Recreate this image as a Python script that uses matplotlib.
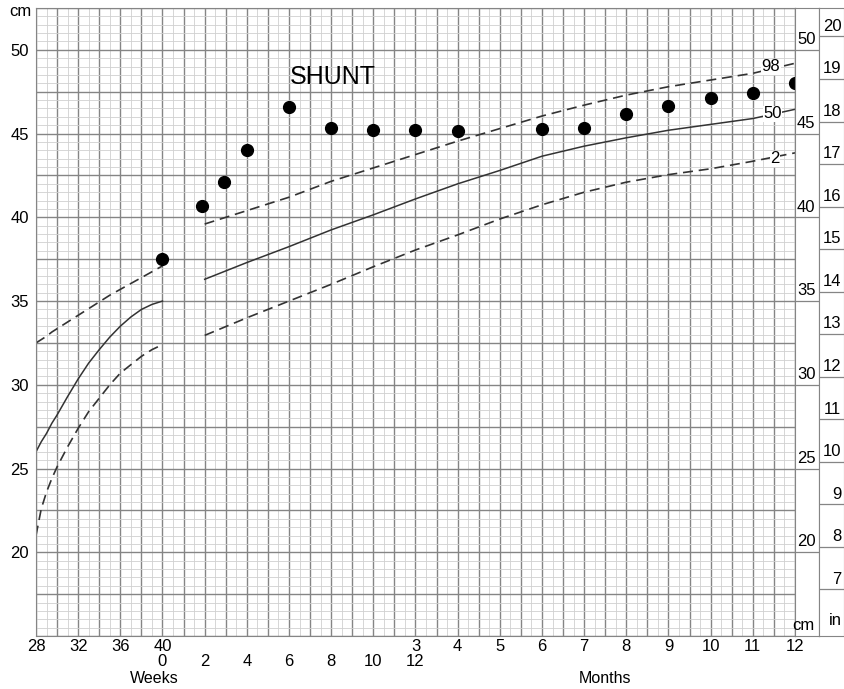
import numpy as np
import matplotlib.pyplot as plt

plt.rcParams['font.family'] = ['Liberation Sans', 'DejaVu Sans']

# preterm reference curves (gestational age, weeks)
pre_weeks = [28, 28.5, 29, 29.5, 30, 31, 32, 33, 34, 35, 36, 37, 38, 39, 40]
pre_p98 = [32.5, 32.7, 32.9, 33.15, 33.35, 33.75, 34.15, 34.55, 34.95, 35.35, 35.7, 36.05, 36.4, 36.75, 37.1]
pre_p50 = [26.0, 26.6, 27.1, 27.7, 28.2, 29.3, 30.35, 31.3, 32.1, 32.85, 33.5, 34.05, 34.5, 34.8, 35.0]
pre_p2 = [21.0, 22.6, 23.6, 24.4, 25.1, 26.3, 27.4, 28.4, 29.2, 30.0, 30.7, 31.2, 31.7, 32.1, 32.4]

# post-term reference curves: weeks 2-12, then months 4-12
post_weeks = [2, 4, 6, 8, 10, 12]
post_months = [4, 5, 6, 7, 8, 9, 10, 11, 12]
post_p98 = [39.6, 40.4, 41.2, 42.15, 42.95, 43.75,
            44.55, 45.3, 46.05, 46.7, 47.3, 47.8, 48.2, 48.6, 49.2]
post_p50 = [36.3, 37.3, 38.25, 39.25, 40.15, 41.1,
            42.0, 42.8, 43.65, 44.25, 44.75, 45.2, 45.55, 45.9, 46.45]
post_p2 = [32.95, 34.0, 35.0, 36.0, 37.05, 38.05,
           38.95, 39.9, 40.75, 41.5, 42.1, 42.55, 42.9, 43.35, 43.85]

# patient measurements
shunt_weeks = [0, 1.85, 2.9, 4, 6, 8, 10, 12]
shunt_weeks_cm = [37.5, 40.7, 42.1, 44.0, 46.6, 45.35, 45.2, 45.2]
shunt_months = [4, 6, 7, 8, 9, 10, 11, 12]
shunt_months_cm = [45.15, 45.3, 45.35, 46.2, 46.65, 47.1, 47.45, 48.05]

gest_ticks = [28, 32, 36, 40]
week_ticks = [0, 2, 4, 6, 8, 10, 12]
month_ticks = [3, 4, 5, 6, 7, 8, 9, 10, 11, 12]
cm_ticks = [20, 25, 30, 35, 40, 45, 50]
inch_ticks = list(range(7, 21))


def gest_pos(w):
    return (np.asarray(w, float) - 28) / 4


def week_pos(w):
    return 3 + np.asarray(w, float) / 2


def month_pos(m):
    return 6 + np.asarray(m, float)


W, H = 845, 689


def px_box(x0, y0, x1, y1):
    return [x0 / W, 1 - y1 / H, (x1 - x0) / W, (y1 - y0) / H]


fig = plt.figure(figsize=(W / 100, H / 100), dpi=100)
ax = fig.add_axes(px_box(36, 8, 795, 636))
ax.set_xlim(0, 18)
ax.set_ylim(15, 52.5)

dark = '#858585'
light = '#d0d0d0'
for v in np.arange(0, 18.01, 0.25):
    major = abs(v * 2 - round(v * 2)) < 1e-6
    ax.axvline(v, color=dark if major else light, lw=1.0 if major else 0.6, zorder=0)
for v in np.arange(15, 52.51, 0.5):
    major = abs(v / 2.5 - round(v / 2.5)) < 1e-6
    ax.axhline(v, color=dark if major else light, lw=1.0 if major else 0.6, zorder=0)

for s in ax.spines.values():
    s.set_color(dark)
ax.set_xticks([])
ax.set_yticks(cm_ticks)
ax.set_yticklabels([str(v) for v in cm_ticks], fontsize=12)
ax.tick_params(axis='y', length=0, pad=5)
fig.text(20 / W, 1 - 12 / H, 'cm', ha='center', va='center', fontsize=12)

line_col = '#333333'
dash = (0, (6, 3.5))
ax.plot(gest_pos(pre_weeks), pre_p98, color=line_col, lw=1.2, ls=dash)
ax.plot(gest_pos(pre_weeks), pre_p50, color=line_col, lw=1.1)
ax.plot(gest_pos(pre_weeks), pre_p2, color=line_col, lw=1.2, ls=dash)

post_x = np.concatenate([week_pos(post_weeks), month_pos(post_months)])
ax.plot(post_x, post_p98, color=line_col, lw=1.2, ls=dash)
ax.plot(post_x, post_p50, color=line_col, lw=1.1)
ax.plot(post_x, post_p2, color=line_col, lw=1.2, ls=dash)

lab_box = dict(facecolor='white', edgecolor='none', pad=0.3)
ax.text(17.43, 48.98, '98', ha='center', va='center', fontsize=12, bbox=lab_box)
ax.text(17.47, 46.18, '50', ha='center', va='center', fontsize=12, bbox=lab_box)
ax.text(17.52, 43.5, '2', ha='center', va='center', fontsize=12, bbox=lab_box)

shunt_x = np.concatenate([week_pos(shunt_weeks), month_pos(shunt_months)])
shunt_y = shunt_weeks_cm + shunt_months_cm
ax.plot(shunt_x, shunt_y, 'o', color='black', ms=8.5, clip_on=False, zorder=5)
ax.text(7.05, 48.4, 'SHUNT', ha='center', va='center', fontsize=18)


def xlabel(pos, txt, dy):
    ax.annotate(txt, xy=(pos, 0), xycoords=('data', 'axes fraction'),
                xytext=(0, dy), textcoords='offset points',
                ha='center', va='baseline', fontsize=12)


for w in gest_ticks:
    xlabel(gest_pos(w), str(w), -10.8)
for m in month_ticks:
    xlabel(month_pos(m), str(m), -10.8)
for w in week_ticks:
    xlabel(week_pos(w), str(w), -21.6)
ax.annotate('Weeks', xy=(2.81, 0), xycoords=('data', 'axes fraction'), xytext=(0, -33.5),
            textcoords='offset points', ha='center', va='baseline', fontsize=11.5)
ax.annotate('Months', xy=(13.5, 0), xycoords=('data', 'axes fraction'), xytext=(0, -33.5),
            textcoords='offset points', ha='center', va='baseline', fontsize=11.5)

# side scales: cm and inches
axc = fig.add_axes(px_box(795, 8, 819, 636))
axi = fig.add_axes(px_box(819, 8, 844, 636))
for a in (axc, axi):
    a.set_xlim(0, 1)
    a.set_ylim(15, 52.5)
    a.set_xticks([])
    a.set_yticks([])
    for s in a.spines.values():
        s.set_color(dark)

for v in cm_ticks:
    axc.axhline(v, color=dark, lw=0.9)
    axc.annotate(str(v), xy=(0.85, v), xytext=(0, 2), textcoords='offset points',
                 ha='right', va='bottom', fontsize=12)
axc.annotate('cm', xy=(0.36, 15), xytext=(0, 2), textcoords='offset points',
             ha='center', va='bottom', fontsize=12)

for v in inch_ticks:
    axi.axhline(v * 2.54, color=dark, lw=0.9)
    axi.annotate(str(v), xy=(0.9, v * 2.54), xytext=(0, 2), textcoords='offset points',
                 ha='right', va='bottom', fontsize=12)
axi.annotate('in', xy=(0.9, 15), xytext=(0, 6), textcoords='offset points',
             ha='right', va='bottom', fontsize=12)

fig.savefig('out.png', dpi=100)
